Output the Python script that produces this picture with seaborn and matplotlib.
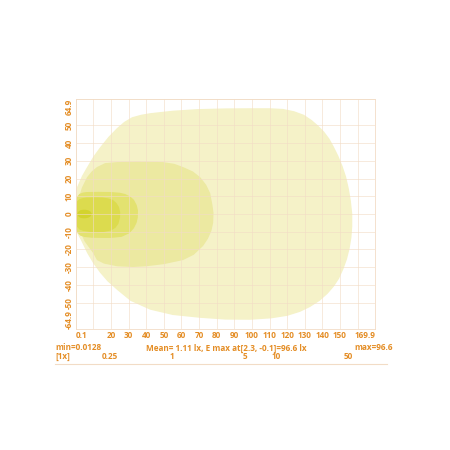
import matplotlib
matplotlib.use("Agg")
import matplotlib.pyplot as plt
import seaborn as sns

sns.set_theme(style="white")
plt.rcParams['font.family'] = ['Open Sans', 'DejaVu Sans']

# isolux contours (x, y in grid units), lowest level first
outer_x = [0.0, 0.7, 3.5, 6.4, 10.0, 13.8, 18.5, 23.4, 27.5, 31.9, 37.0, 42.2, 55.0,
           68.9, 85.0, 99.0, 110.0, 117.7, 124.0, 129.5, 134.0, 137.5, 141.0,
           144.0, 146.5, 149.0, 151.5, 153.5, 155.0, 156.2, 157.0, 157.0, 156.5,
           155.5, 154.0, 152.0, 149.5, 146.5, 143.0, 138.5, 133.0, 127.4, 120.0,
           111.0, 99.0, 85.0, 70.6, 55.0, 42.2, 31.0, 23.4, 18.0, 13.8, 10.0, 6.4,
           3.0, 0.7, 0.0]
outer_y = [13.0, 15.2, 21.5, 26.5, 32.5, 37.7, 43.5, 48.5, 52.0, 54.6, 56.0, 56.9, 58.3,
           59.2, 59.6, 59.7, 59.7, 59.3, 58.0, 56.0, 53.0, 50.0, 46.5,
           42.5, 38.0, 33.0, 27.0, 21.0, 14.5, 7.5, 0.0, -7.0, -13.5,
           -19.5, -25.5, -31.0, -36.5, -41.0, -45.0, -49.0, -52.5, -55.2, -57.5,
           -58.9, -59.7, -59.6, -58.6, -57.0, -54.0, -49.0, -42.8, -38.0, -33.2,
           -28.0, -22.0, -15.0, -10.7, -9.0]

lx1_x = [0.0, 1.2, 3.5, 6.4, 9.0, 12.0, 16.6, 23.4, 35.0, 49.5, 56.0, 60.9, 66.5,
         70.6, 74.0, 76.3, 77.6, 78.2, 78.0, 77.0, 75.0, 72.3, 67.0, 60.9, 50.0,
         40.0, 32.5, 23.4, 16.0, 12.0, 9.8, 5.0, 1.2, 0.0]
lx1_y = [6.0, 7.9, 15.0, 20.8, 24.0, 26.5, 28.7, 29.3, 29.5, 29.3, 28.3, 26.5, 24.0,
         20.8, 16.5, 11.8, 5.0, 0.6, -5.0, -9.5, -14.0, -18.0, -23.0, -26.0, -28.3,
         -29.5, -29.9, -29.5, -28.0, -26.0, -22.0, -15.5, -7.3, -5.0]

lx5_x = [0.0, 0.8, 2.0, 4.0, 6.0, 13.0, 20.0, 25.0, 28.0, 31.0, 33.0, 34.6, 35.3,
         35.2, 34.5, 33.0, 30.5, 26.0, 20.0, 15.0, 9.0, 5.0, 2.5, 1.0, 0.0]
lx5_y = [8.0, 9.8, 11.3, 12.1, 12.4, 12.5, 12.4, 12.0, 11.3, 9.8, 8.0, 5.0, 2.0,
         -2.0, -5.0, -8.0, -10.8, -12.9, -13.5, -13.5, -13.4, -13.0, -12.2, -10.6, -8.5]

lx10_x = [0.0, 0.8, 2.0, 4.0, 6.0, 11.0, 15.0, 18.5, 21.0, 23.0, 24.5, 25.2, 25.1,
          24.2, 22.5, 20.0, 16.0, 12.0, 8.0, 4.0, 2.0, 0.8, 0.0]
lx10_y = [5.5, 7.2, 8.4, 9.0, 9.3, 9.4, 9.3, 8.8, 8.0, 6.3, 4.0, 1.0, -2.0,
          -5.5, -7.8, -9.3, -10.1, -10.3, -10.1, -9.5, -8.7, -7.3, -5.5]

lx50_x = [0.8, 1.5, 2.5, 4.0, 5.5, 7.0, 8.3, 9.2, 8.3, 7.0, 5.5, 4.0, 2.5, 1.5]
lx50_y = [0.0, 1.4, 2.1, 2.4, 2.4, 2.1, 1.4, 0.0, -1.4, -2.1, -2.4, -2.4, -2.1, -1.4]

contours = [(outer_x, outer_y), (lx1_x, lx1_y), (lx5_x, lx5_y),
            (lx10_x, lx10_y), (lx50_x, lx50_y)]
fill_colors = ['#f5f2c8', '#ece9a1', '#e3e270', '#dcdb4e', '#d3d32e']

x_ticks = [0.1, 20, 30, 40, 50, 60, 70, 80, 90, 100, 110, 120, 130, 140, 150, 169.9]
x_grid = [10, 160]
y_ticks = [-64.9, -50, -40, -30, -20, -10, 0, 10, 20, 30, 40, 50, 64.9]

scale_vals = [0.25, 1, 5, 10, 50]
scale_labels = ['0.25', '1', '5', '10', '50']

stats_min = 'min=0.0128'
stats_mid = 'Mean= 1.11 lx, E max at[2.3, -0.1]=96.6 lx'
stats_max = 'max=96.6'

orange = '#e48d25'
grid_c = '#f2dcc6'
fs = 5.9
fw = 'bold'

fig = plt.figure(figsize=(4.5, 4.5), dpi=100)
ax = fig.add_axes([76 / 450, 121 / 450, 299 / 450, 230 / 450])

for (cx, cy), c in zip(contours, fill_colors):
    ax.fill(cx, cy, color=c, lw=0, zorder=1)

ax.set_xlim(0.1, 169.9)
ax.set_ylim(-64.9, 64.9)
ax.set_xticks(x_ticks)
ax.set_xticks(x_grid, minor=True)
ax.set_yticks(y_ticks)
ax.set_xticklabels([f'{v:g}' for v in x_ticks])
ax.set_yticklabels([f'{v:g}' for v in y_ticks], rotation=90, va='center')
ax.grid(True, which='both', color=grid_c, lw=0.6, alpha=0.7, zorder=2)
ax.set_axisbelow(False)
ax.tick_params(which='both', length=0, pad=1.5, labelsize=fs, labelcolor=orange)
for lab in ax.get_xticklabels() + ax.get_yticklabels():
    lab.set_fontweight(fw)
xl = ax.get_xticklabels()
xl[0].set_ha('left')
xl[-1].set_ha('right')
yl = ax.get_yticklabels()
yl[0].set_va('bottom')
yl[-1].set_va('top')
for s in ax.spines.values():
    s.set_color(grid_c)
    s.set_linewidth(0.6)

tkw = dict(color=orange, fontsize=fs, fontweight=fw, va='center')
fig.text(55 / 450, 1 - 348 / 450, stats_min, ha='left', **tkw)
fig.text(226 / 450, 1 - 348 / 450, stats_mid, ha='center', **tkw)
fig.text(393 / 450, 1 - 348 / 450, stats_max, ha='right', **tkw)

# log scale strip
sax = fig.add_axes([55 / 450, 1 - 364 / 450, 332 / 450, 12 / 450])
sax.set_xscale('log')
sax.set_xlim(0.075, 116.7)
sax.set_ylim(0, 1)
sax.set_yticks([])
sax.set_xticks(scale_vals)
sax.set_xticks([], minor=True)
sax.tick_params(axis='x', direction='in', length=4, color=grid_c, width=0.6,
                labelbottom=False)
for name, s in sax.spines.items():
    s.set_visible(name == 'bottom')
sax.spines['bottom'].set_color(grid_c)
sax.spines['bottom'].set_linewidth(0.8)
sax.patch.set_alpha(0)
for v, t in zip(scale_vals, scale_labels):
    sax.text(v, 0.6, t, ha='center', va='center', color=orange, fontsize=fs,
             fontweight=fw, transform=sax.get_xaxis_transform())
sax.text(0.0, 0.6, '[1x]', ha='left', va='center', color=orange, fontsize=fs,
         fontweight=fw, transform=sax.transAxes)

fig.savefig('out.png', dpi=100)
